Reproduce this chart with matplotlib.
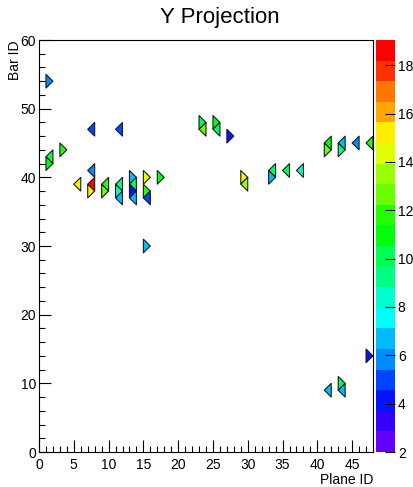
import colorsys
import matplotlib
matplotlib.use("Agg")
import matplotlib.pyplot as plt
from matplotlib.collections import PolyCollection
from matplotlib.colors import ListedColormap, BoundaryNorm
import numpy as np

plt.rcParams['font.family'] = ['Liberation Sans', 'DejaVu Sans']

# hits: plane, bar, charge
planes = [1, 1, 1, 3, 5, 7, 7, 7, 7, 9, 9, 11, 11, 11, 11,
          13, 13, 13, 13, 15, 15, 15, 15, 17, 23, 23, 25, 25, 27, 29, 29,
          33, 33, 35, 37, 41, 41, 43, 43, 45, 47, 47, 41, 43, 43]
bars = [54, 43, 42, 44, 39, 47, 41, 39, 38, 39, 38, 47, 39, 38, 37,
        40, 39, 38, 37, 40, 38, 37, 30, 40, 48, 47, 48, 47, 46, 40, 39,
        41, 40, 41, 41, 45, 44, 45, 44, 45, 45, 14, 9, 10, 9]
charge = [6.0, 10.0, 11.0, 12.0, 15.0, 5.0, 6.0, 19.0, 15.0, 11.5, 13.0, 5.0, 9.0, 8.5, 7.0,
          6.5, 10.0, 4.0, 7.0, 14.5, 11.5, 5.0, 6.5, 11.0, 10.0, 12.5, 11.0, 10.5, 4.0, 15.0, 13.5,
          10.0, 6.5, 10.0, 8.8, 11.0, 13.0, 6.3, 9.5, 5.5, 11.5, 4.5, 6.7, 10.0, 6.7]

zmin, zmax = 2.0, 19.04
nlev = 20

# ROOT-like "pretty" palette, 20 contour bands
cols = []
for i in range(nlev):
    idx = int((i + 0.99) * 50 / nlev)
    hue = 0.0 if idx >= 49 else 280 - (idx + 1) * 5.6
    cols.append(colorsys.hsv_to_rgb(hue / 360.0, 1, 1))
cmap = ListedColormap(cols)
norm = BoundaryNorm(np.linspace(zmin, zmax, nlev + 1), nlev)

# triangular bars: even bars point right, odd bars point left
tris = []
for p, b in zip(planes, bars):
    if b % 2 == 0:
        tris.append([(p, b - 1), (p, b + 1), (p + 1, b)])
    else:
        tris.append([(p + 1, b - 1), (p + 1, b + 1), (p, b)])

fig = plt.figure(figsize=(4.13, 4.87), dpi=100)
ax = fig.add_axes([39 / 413, 35 / 487, 334 / 413, 412 / 487])
cax = fig.add_axes([376 / 413, 35 / 487, 19 / 413, 412 / 487])

pc = PolyCollection(tris, cmap=cmap, norm=norm, edgecolors='#1a1a1a', linewidths=0.8)
pc.set_array(np.array(charge))
ax.add_collection(pc)

ax.set_xlim(0, 48)
ax.set_ylim(0, 60)
ax.set_xticks(np.arange(0, 46, 5))
ax.set_xticks(np.arange(0, 48, 1), minor=True)
ax.set_yticks(np.arange(0, 61, 10))
ax.set_yticks(np.arange(0, 61, 2), minor=True)
ax.tick_params(which='both', direction='in', top=False, right=False, labelsize=10)
ax.tick_params(which='major', length=8.5, width=0.8)
ax.tick_params(which='minor', length=4.3, width=0.8)
ax.tick_params(axis='x', pad=4)
ax.tick_params(axis='y', pad=2)

ax.set_xlabel('Plane ID', fontsize=10, loc='right')
ax.xaxis.set_label_coords(1.0, -0.05)
ax.set_ylabel('Bar ID', fontsize=10, loc='top')
ax.yaxis.set_label_coords(-0.05, 1.0)

fig.text(220 / 413, 1 - 18 / 487, 'Y Projection', fontsize=16, ha='center', va='center')

cb = fig.colorbar(pc, cax=cax, ticks=np.arange(2, 19, 2))
cb.outline.set_visible(False)
cax.tick_params(direction='in', length=7, width=0.8, labelsize=10, pad=2)
cax.tick_params(which='minor', length=0)

fig.savefig('out.png', dpi=100)
